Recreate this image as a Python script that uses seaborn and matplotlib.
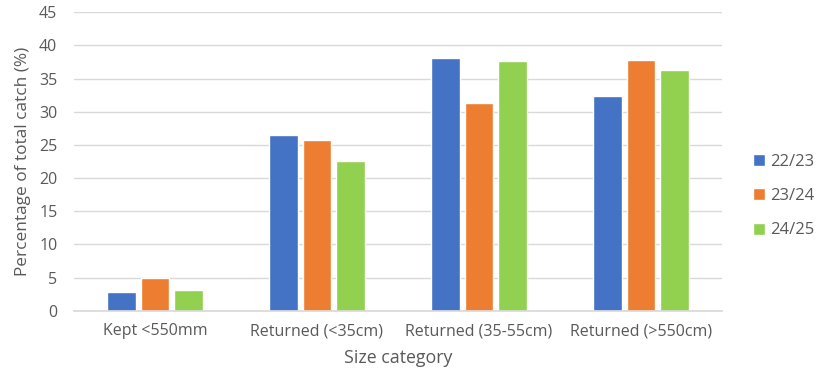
import matplotlib
matplotlib.use("Agg")
import matplotlib.pyplot as plt
import seaborn as sns
import pandas as pd

categories = ["Kept <550mm", "Returned (<35cm)", "Returned (35-55cm)", "Returned (>550cm)"]
seasons = ["22/23", "23/24", "24/25"]
values_2223 = [2.8, 26.5, 38.1, 32.4]
values_2324 = [4.9, 25.8, 31.3, 37.8]
values_2425 = [3.1, 22.6, 37.6, 36.3]
colors = ["#4472C4", "#ED7D31", "#92D050"]
yticks = list(range(0, 50, 5))

rows = []
for s, vals in zip(seasons, [values_2223, values_2324, values_2425]):
    for c, v in zip(categories, vals):
        rows.append({"Size category": c, "Season": s, "value": v})
df = pd.DataFrame(rows)

sns.set_theme(style="white")
plt.rcParams['font.family'] = ['Open Sans', 'DejaVu Sans']

fig = plt.figure(figsize=(8.2, 3.83), dpi=100)
ax = fig.add_axes([0.0902, 0.1888, 0.7903, 0.7792])
sns.barplot(data=df, x="Size category", y="value", hue="Season", hue_order=seasons,
            palette=colors, width=0.62, gap=0.15, ax=ax, saturation=1, errorbar=None)

ax.set_ylim(0, 45)
ax.set_yticks(yticks)
ax.set_xlim(-0.5, 3.5)
ax.yaxis.grid(True, color="#D9D9D9", linewidth=1)
ax.set_axisbelow(True)
for sp in ["top", "right", "left"]:
    ax.spines[sp].set_visible(False)
ax.spines["bottom"].set_color("#D9D9D9")
ax.tick_params(axis="x", length=0, labelsize=11.5, labelcolor="#595959", pad=9)
ax.tick_params(axis="y", length=0, labelsize=11.5, labelcolor="#595959", pad=12)
ax.set_xlabel("Size category", fontsize=12.8, color="#595959", labelpad=7)
ax.set_ylabel("Percentage of total catch (%)", fontsize=12.4, color="#595959", labelpad=6)

leg = ax.legend(loc="center left", bbox_to_anchor=(1.027, 0.384), frameon=False,
                fontsize=12, handlelength=0.75, handleheight=0.75, labelspacing=1.1,
                handletextpad=0.3, borderpad=0.3)
for t in leg.get_texts():
    t.set_color("#595959")

fig.savefig("out.png", dpi=100)
